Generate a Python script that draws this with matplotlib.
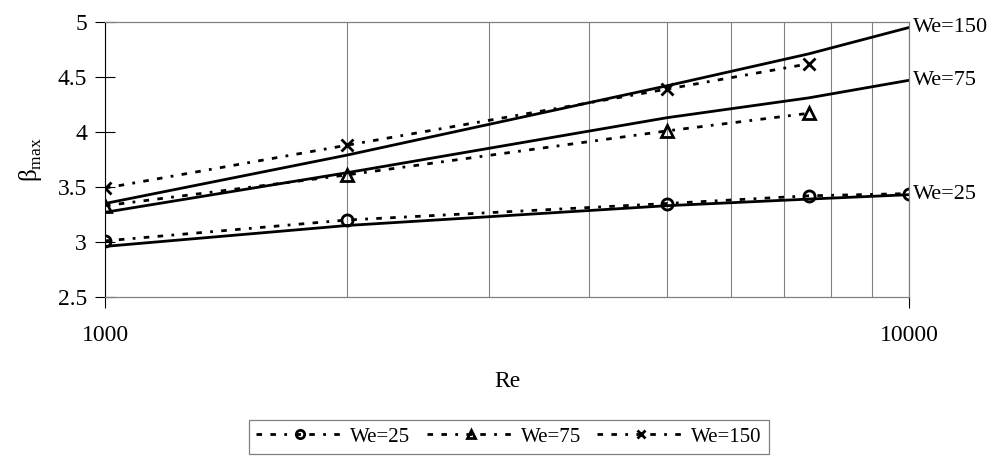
import matplotlib
matplotlib.use("Agg")
import matplotlib.pyplot as plt
from matplotlib.ticker import LogLocator, NullFormatter, FixedLocator

plt.rcParams['font.family'] = ['Liberation Serif', 'DejaVu Serif']
plt.rcParams['mathtext.fontset'] = 'custom'
plt.rcParams['mathtext.rm'] = 'Liberation Serif'

# model curves (solid)
re_model = [1000, 2000, 5000, 7500, 10000]
model_25 = [2.96, 3.15, 3.33, 3.39, 3.43]
model_75 = [3.27, 3.63, 4.13, 4.31, 4.47]
model_150 = [3.35, 3.79, 4.42, 4.71, 4.95]

# measured points (dashed)
re_25 = [1000, 2000, 5000, 7500, 10000]
beta_25 = [3.01, 3.20, 3.35, 3.42, 3.44]
re_exp = [1000, 2000, 5000, 7500]
beta_75 = [3.33, 3.61, 4.01, 4.17]
beta_150 = [3.49, 3.88, 4.39, 4.62]

fig = plt.figure(figsize=(9.93, 4.58), dpi=100)
ax = fig.add_axes([105/993, 1-297/458, (909-105)/993, (297-22)/458])

ax.set_xscale('log')
ax.set_xlim(1000, 10000)
ax.set_ylim(2.5, 5)

dash = (0, (2, 3, 2, 3, 1, 3))
mk = dict(markersize=8, markerfacecolor='none', markeredgewidth=2, color='black', lw=2)
ax.plot(re_25, beta_25, linestyle=dash, marker='o', label='We=25', **mk)
ax.plot(re_exp, beta_75, linestyle=dash, marker='^', label='We=75', **mk)
ax.plot(re_exp, beta_150, linestyle=dash, marker='x', label='We=150', **mk)

for vals, name in [(model_25, 'We=25'), (model_75, 'We=75'), (model_150, 'We=150')]:
    ax.plot(re_model, vals, color='black', lw=2)
    ax.annotate(name, xy=(re_model[-1], vals[-1]), xytext=(3, 0), textcoords='offset points',
                va='center', ha='left', fontsize=16, annotation_clip=False)

ax.xaxis.set_major_locator(FixedLocator([1000, 10000]))
ax.xaxis.set_minor_locator(LogLocator(base=10, subs=range(2, 10)))
ax.xaxis.set_minor_formatter(NullFormatter())
ax.set_xticklabels(['1000', '10000'])
ax.grid(True, which='both', axis='x', color='#808080', lw=0.8)
ax.set_yticks([2.5, 3, 3.5, 4, 4.5, 5])
ax.set_yticklabels(['2.5', '3', '3.5', '4', '4.5', '5'])

ax.tick_params(axis='y', direction='inout', length=14, width=0.8, labelsize=17, pad=6)
ax.tick_params(axis='x', which='major', direction='out', length=8, width=0.8, labelsize=17, pad=12)
ax.tick_params(axis='x', which='minor', length=0)

ax.spines['left'].set_color('black')
for s in ['top', 'bottom', 'right']:
    ax.spines[s].set_color('#808080')
    ax.spines[s].set_linewidth(0.9)

ax.set_xlabel('Re', fontsize=17, labelpad=18)
ax.set_ylabel(r'β$_{\mathrm{max}}$', fontsize=18, labelpad=10)

leg = fig.legend(loc='center', bbox_to_anchor=(509/993, 1-437/458), ncol=3, fontsize=15,
                 frameon=True, fancybox=False, edgecolor='#606060', handlelength=4.2,
                 markerscale=0.75, handletextpad=0.3, columnspacing=0.8, borderpad=0.35)
leg.get_frame().set_linewidth(0.9)

fig.savefig('out.png', dpi=100)
